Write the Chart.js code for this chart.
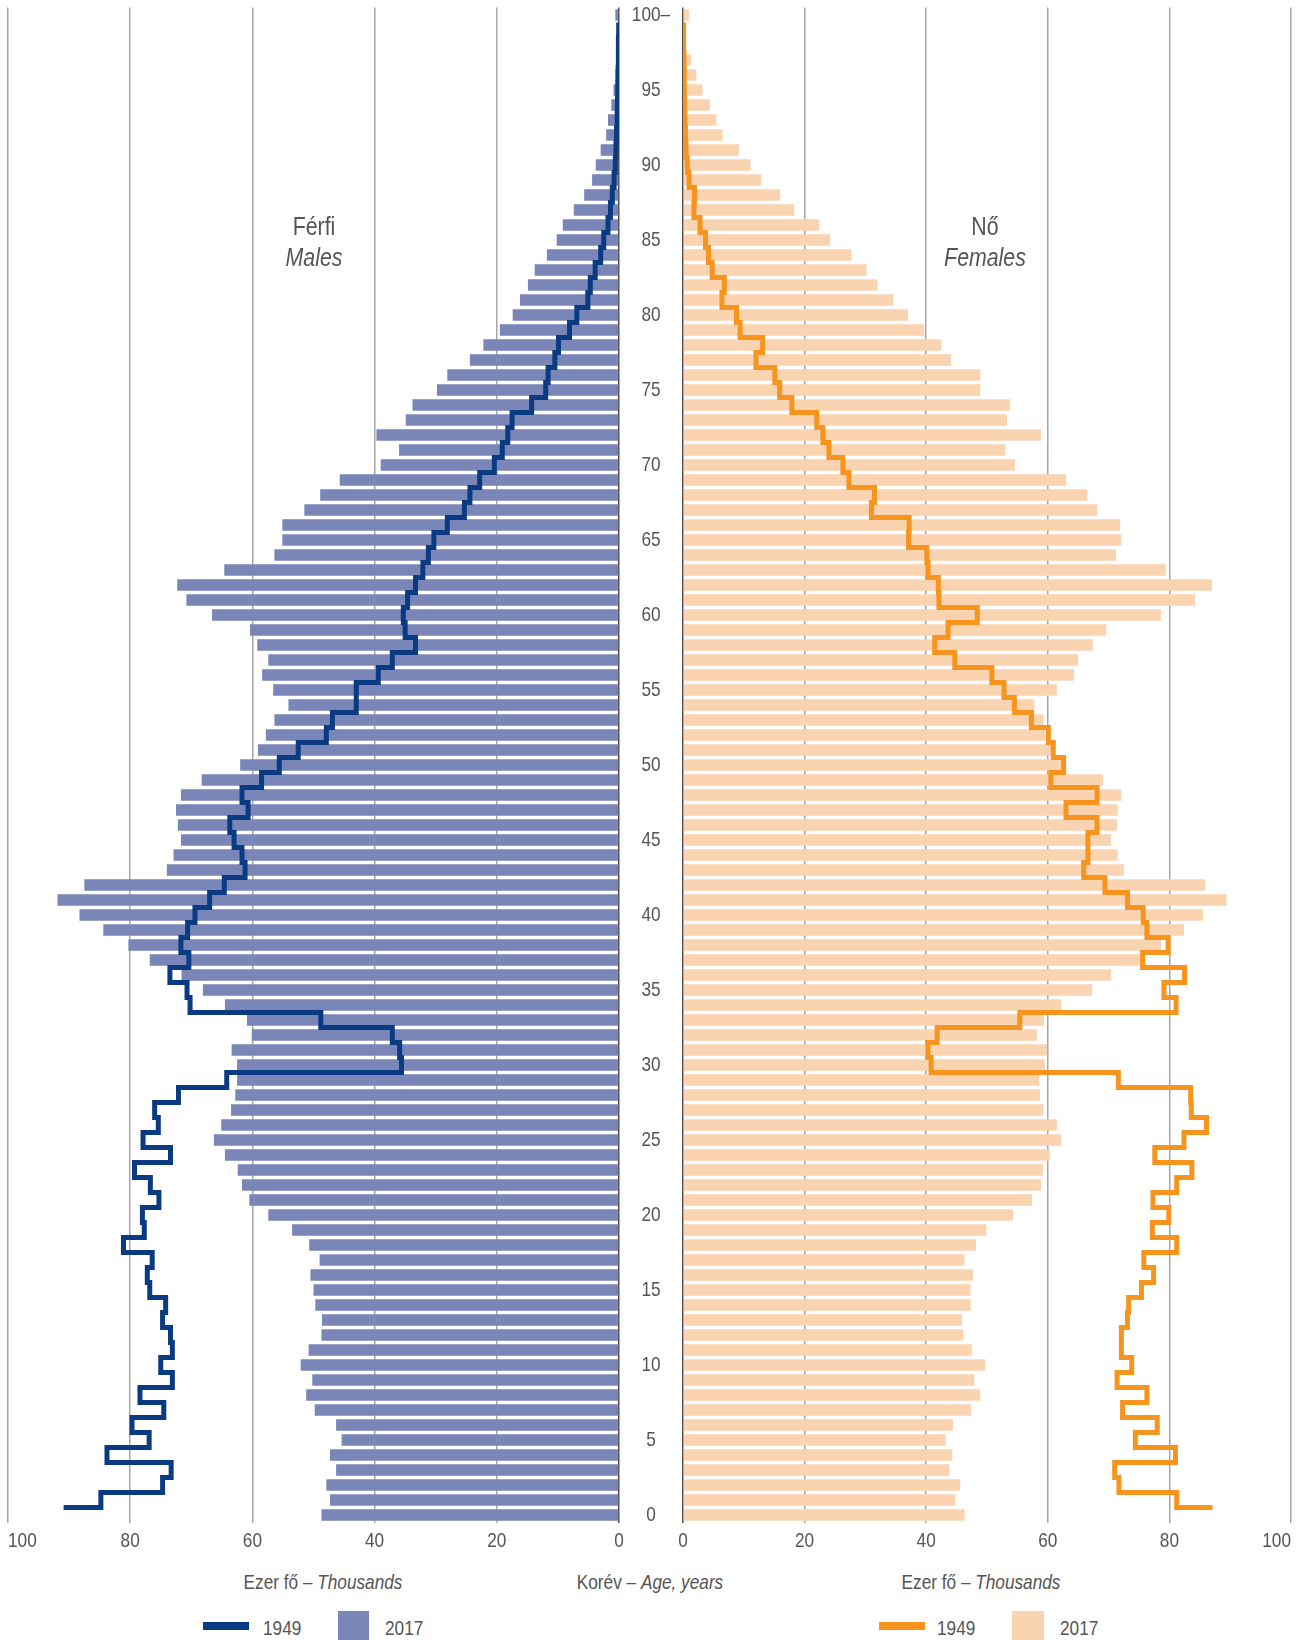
<!DOCTYPE html>
<html>
<head>
<meta charset="utf-8">
<title>Korfa 1949, 2017</title>
<script src="https://cdn.jsdelivr.net/npm/chart.js@4.4.0/dist/chart.umd.min.js"></script>
<style>
	html, body { margin: 0; padding: 0; background: #fff; }
	#page { position: relative; width: 1303px; height: 1640px; overflow: hidden; }
	canvas { position: absolute; top: 0; }
	#maleChart { left: 0; }
	#femaleChart { left: 660px; }
	/* no narrow face installed, so the normal one is squeezed sideways */
	.txt {
		position: absolute; white-space: nowrap; line-height: 1;
		font-family: "Liberation Sans", Arial, sans-serif;
		font-size: 21px; color: #555;
		transform: translate(-50%, -50%) scaleX(0.82);
	}
	.big { font-size: 26px; }
	.lbl { transform-origin: 0 50%; transform: translate(0, -50%) scaleX(0.82); }
	.key { position: absolute; }
</style>
</head>
<body>
<div id="page">
	<canvas id="maleChart" width="683" height="1563"></canvas>
	<canvas id="femaleChart" width="643" height="1563"></canvas>

	<div class="txt big" style="left:314px; top:226px">Férfi</div>
	<div class="txt big" style="left:314px; top:257px"><i>Males</i></div>
	<div class="txt big" style="left:985px; top:226px">Nő</div>
	<div class="txt big" style="left:985px; top:257px"><i>Females</i></div>

	<div class="txt" style="left:323px; top:1581px">Ezer fő – <i>Thousands</i></div>
	<div class="txt" style="left:650px; top:1581px">Korév – <i>Age, years</i></div>
	<div class="txt" style="left:981px; top:1581px">Ezer fő – <i>Thousands</i></div>

	<div class="key" style="left:203px; top:1622px; width:46px; height:8px; background:#0a3a82"></div>
	<div class="txt lbl" style="left:263px; top:1627px">1949</div>
	<div class="key" style="left:338px; top:1611px; width:31px; height:29px; background:#7986b7"></div>
	<div class="txt lbl" style="left:385px; top:1627px">2017</div>

	<div class="key" style="left:879px; top:1622px; width:46px; height:8px; background:#f7941e"></div>
	<div class="txt lbl" style="left:937px; top:1627px">1949</div>
	<div class="key" style="left:1012px; top:1611px; width:32px; height:29px; background:#fad3b0"></div>
	<div class="txt lbl" style="left:1060px; top:1627px">2017</div>
</div>

<script>
/*
 * DATA (index = age in years, 0 ... 100)
 */
	var male2017 = [
		48.7, 47.3, 47.9, 46.3, 47.3, 45.4, 46.3, 49.8, 51.2, 50.2,
		52.1, 50.8, 48.7, 48.6, 49.7, 50.0, 50.5, 49.0, 50.7, 53.5,
		57.4, 60.5, 61.7, 62.4, 64.5, 66.3, 65.1, 63.5, 62.8, 62.5,
		62.5, 63.4, 60.1, 60.9, 64.5, 68.1, 71.6, 76.8, 80.3, 84.4,
		88.3, 91.9, 87.5, 74.0, 72.9, 71.7, 72.2, 72.5, 71.7, 68.3,
		62.0, 59.1, 57.8, 56.4, 54.1, 56.6, 58.4, 57.4, 59.2, 60.4,
		66.6, 70.8, 72.3, 64.6, 56.4, 55.1, 55.1, 51.5, 48.9, 45.7,
		39.0, 36.0, 39.7, 34.9, 33.8, 29.8, 28.1, 24.4, 22.2, 19.5,
		17.4, 16.2, 14.9, 13.8, 11.8, 10.2, 9.2, 7.4, 5.7, 4.4,
		3.8, 3.0, 2.1, 1.8, 1.25, 0.9, 0.6, 0.4, 0.3, 0.2,
		0.6
	];
	var male1949 = [
		90.9, 84.8, 74.7, 73.3, 83.8, 76.9, 79.7, 74.5, 78.4, 73.1,
		75.0, 73.1, 73.4, 74.7, 74.2, 76.8, 77.2, 76.4, 81.1, 77.7,
		78.0, 75.3, 76.7, 79.3, 73.4, 77.9, 75.4, 76.0, 72.1, 64.2,
		35.6, 35.9, 37.1, 48.8, 70.2, 70.7, 73.5, 70.4, 71.7, 70.6,
		69.4, 67.0, 64.6, 61.2, 61.7, 63.0, 63.7, 60.7, 61.7, 58.5,
		55.6, 52.5, 47.9, 46.9, 43.0, 43.0, 39.4, 37.1, 33.3, 35.0,
		35.3, 34.6, 33.3, 32.1, 31.2, 30.3, 28.1, 25.3, 24.4, 22.8,
		20.4, 19.1, 18.2, 17.5, 14.3, 12.0, 11.6, 10.5, 9.9, 8.1,
		6.9, 5.1, 4.7, 3.9, 3.0, 2.5, 1.8, 1.4, 1.1, 0.8,
		0.6, 0.5, 0.4, 0.3, 0.25, 0.2, 0.15, 0.1, 0.1, 0.05,
		null
	];
	var female2017 = [
		46.3, 44.8, 45.6, 43.8, 44.3, 43.2, 44.4, 47.4, 48.9, 47.9,
		49.7, 47.5, 46.1, 45.9, 47.3, 47.3, 47.7, 46.3, 48.2, 49.9,
		54.3, 57.4, 58.9, 59.2, 60.3, 62.2, 61.5, 59.3, 58.7, 58.6,
		59.5, 59.9, 58.2, 59.4, 62.2, 67.3, 70.4, 75.3, 78.7, 82.4,
		85.5, 89.4, 85.9, 72.5, 71.5, 70.4, 71.4, 71.5, 72.1, 69.1,
		62.2, 60.5, 59.6, 59.3, 57.8, 61.5, 64.3, 65.0, 67.4, 69.6,
		78.6, 84.2, 87.0, 79.4, 71.2, 72.1, 71.9, 68.1, 66.5, 63.0,
		54.6, 53.0, 58.9, 53.3, 53.8, 48.9, 48.9, 44.1, 42.5, 39.7,
		37.0, 34.6, 32.0, 30.2, 27.7, 24.2, 22.4, 18.3, 16.0, 12.9,
		11.1, 9.2, 6.5, 5.5, 4.4, 3.2, 2.2, 1.35, 0.5, 0.4,
		1.0
	];
	var female1949 = [
		87.1, 81.2, 71.7, 71.0, 81.0, 74.4, 78.0, 72.3, 76.3, 71.4,
		73.8, 72.1, 72.1, 73.1, 73.3, 75.4, 77.4, 75.8, 81.2, 77.2,
		79.9, 77.3, 81.2, 83.7, 77.6, 82.4, 86.1, 83.6, 83.5, 71.6,
		40.8, 40.3, 41.8, 55.4, 81.1, 79.1, 82.5, 75.6, 79.8, 76.3,
		75.7, 73.1, 69.4, 65.9, 66.6, 66.6, 68.1, 63.0, 68.1, 60.5,
		62.6, 60.9, 60.1, 57.3, 54.5, 52.8, 50.8, 44.7, 41.4, 43.6,
		48.4, 42.1, 42.0, 40.3, 40.1, 37.1, 37.2, 31.0, 31.5, 27.3,
		26.3, 24.0, 23.0, 22.0, 17.9, 15.9, 15.1, 12.0, 13.1, 9.4,
		8.8, 6.4, 6.8, 4.8, 4.2, 3.7, 2.8, 1.8, 1.9, 1.0,
		0.7, 0.5, 0.4, 0.3, 0.25, 0.2, 0.2, 0.15, 0.1, 0.1,
		null
	];

	var ageTicks = [0, 5, 10, 15, 20, 25, 30, 35, 40, 45, 50, 55, 60, 65, 70, 75, 80, 85, 90, 95, 100];
	var ageTickLabels = ['0', '5', '10', '15', '20', '25', '30', '35', '40', '45', '50',
		'55', '60', '65', '70', '75', '80', '85', '90', '95', '100–'];
	var valueTicks = [0, 20, 40, 60, 80, 100];

/*
 * STYLE
 */
	var FONT = '"Liberation Sans", Arial, sans-serif';
	var NARROW = 0.82;
	var TEXT_COLOR = '#555';
	var GRID_COLOR = '#a6a6a6';
	var ZERO_COLOR = '#4d4d4d';

	/* age labels sit centred in the gap between the two halves */
	var measure = document.createElement('canvas').getContext('2d');
	measure.font = '21px ' + FONT;
	var widestAge = Math.max.apply(null, ageTickLabels.map(function(t) { return measure.measureText(t).width; }));
	var agePad = (64 - widestAge) / 2;

	/* PLUGIN - squeeze canvas text like the narrow face of the original */
	var narrowText = {
		id: 'narrowText',
		beforeInit: function(chart) {
			var ctx = chart.ctx;
			var plain = ctx.fillText;
			ctx.fillText = function(text, x, y) {
				return plain.call(ctx, text, x, y, ctx.measureText(text).width * NARROW);
			};
		}
	};

/*
 * HELPERS
 */
	/* BARS - one bar per age */
	function barPoints(values) {
		var out = [];
		for (var age = 0; age < values.length; age++) {
			out.push({ x: values[age], y: age });
		}
		return out;
	}

	/* STEP LINE - a corner at the top edge of every age band */
	function stepPoints(values) {
		var out = [];
		for (var age = 0; age < values.length; age++) {
			if (values[age] !== null) out.push({ x: values[age], y: age + 0.5 });
		}
		return out;
	}

	function zeroPadding(scale) {
		scale.paddingLeft = 0;
		scale.paddingRight = 0;
		scale.paddingTop = 0;
		scale.paddingBottom = 0;
	}

	function makeSide(canvasId, bars, line, barColor, lineColor, isLeft, layoutPadding) {
		return new Chart(document.getElementById(canvasId), {
			type: 'bar',
			plugins: [narrowText],
			data: {
				datasets: [{
					type: 'line',
					indexAxis: 'y',
					data: stepPoints(line),
					borderColor: lineColor,
					borderWidth: 5,
					stepped: 'before',
					borderJoinStyle: 'miter',
					borderCapStyle: 'butt',
					pointRadius: 0,
					fill: false,
					order: 0
				}, {
					type: 'bar',
					indexAxis: 'y',
					data: barPoints(bars),
					backgroundColor: barColor,
					borderWidth: 0,
					barPercentage: 0.78,
					categoryPercentage: 1,
					order: 1
				}]
			},
			options: {
				indexAxis: 'y',
				responsive: false,
				animation: false,
				events: [],
				layout: { padding: layoutPadding },
				plugins: {
					legend: { display: false },
					tooltip: { enabled: false }
				},
				scales: {
					x: {
						type: 'linear',
						position: 'bottom',
						reverse: isLeft,
						min: 0,
						max: 100,
						afterBuildTicks: function(scale) {
							// blank tick in front keeps the "0" label centred, "100" hugs the edge
							scale.ticks = [{ value: -0.0001 }].concat(valueTicks.map(function(v) { return { value: v }; }));
						},
						afterFit: function(scale) {
							scale.height = 40.5;
							zeroPadding(scale);
						},
						border: { display: false },
						grid: {
							drawTicks: false,
							lineWidth: 1.5,
							color: function(ctx) {
								if (ctx.tick.value < 0) return 'rgba(0,0,0,0)';
								return ctx.tick.value === 0 ? ZERO_COLOR : GRID_COLOR;
							}
						},
						ticks: {
							align: 'inner',
							autoSkip: false,
							maxRotation: 0,
							padding: 6,
							color: TEXT_COLOR,
							font: { family: FONT, size: 21 },
							callback: function(v) { return v < 0 ? '' : String(v); }
						}
					},
					y: {
						type: 'linear',
						display: isLeft,
						position: 'right',
						offset: false,
						min: -0.5,
						max: 100.5,
						afterBuildTicks: function(scale) {
							scale.ticks = ageTicks.map(function(v) { return { value: v }; });
						},
						afterFit: function(scale) {
							// only the male half carries the age column
							scale.width = isLeft ? 64 : 0;
							zeroPadding(scale);
						},
						border: { display: false },
						grid: { display: false, offset: false, drawTicks: false },
						ticks: {
							autoSkip: false,
							crossAlign: 'center',
							padding: agePad,
							color: TEXT_COLOR,
							font: { family: FONT, size: 21 },
							callback: function(v) { return ageTickLabels[ageTicks.indexOf(v)]; }
						}
					}
				}
			}
		});
	}

/*
 * CHARTS
 */
	makeSide('maleChart', male2017, male1949, '#7986b7', '#0a3a82', true,
		{ left: 8, top: 7.5, right: 0, bottom: 0 });
	makeSide('femaleChart', female2017, female1949, '#fad3b0', '#f7941e', false,
		{ left: 23, top: 7.5, right: 12, bottom: 0 });
</script>
</body>
</html>
